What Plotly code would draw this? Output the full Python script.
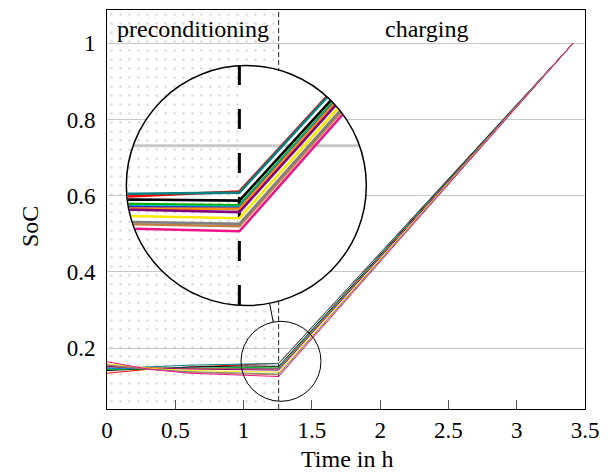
import numpy as np
import plotly.graph_objects as go

# ---------------------------------------------------------------- data
# time stamps of the preconditioning phase (h) and the state of charge of
# every profile at those stamps; charging then runs linearly up to full
T_PRE = [0.0, 0.3, 0.6, 1.0, 1.257]
T_FULL = 3.413
SOC_FULL = 1.0

soc_red = [0.134, 0.144, 0.150, 0.156, 0.160]
soc_teal = [0.146, 0.151, 0.155, 0.158, 0.159]
soc_black = [0.141, 0.146, 0.150, 0.153, 0.152]
soc_green = [0.144, 0.146, 0.148, 0.149, 0.148]
soc_cyan = [0.147, 0.147, 0.147, 0.147, 0.1465]
soc_blue = [0.148, 0.147, 0.146, 0.1465, 0.1455]
soc_orange = [0.151, 0.148, 0.146, 0.145, 0.1448]
soc_purple = [0.152, 0.147, 0.145, 0.144, 0.142]
soc_yellow = [0.159, 0.147, 0.141, 0.1385, 0.1366]
soc_brown = [0.155, 0.144, 0.136, 0.1313, 0.1296]
soc_gray = [0.156, 0.145, 0.138, 0.1333, 0.1317]
soc_pink = [0.164, 0.145, 0.134, 0.1275, 0.1252]

SERIES = [
    (soc_red, "#ff0000"),
    (soc_teal, "#008080"),
    (soc_black, "#000000"),
    (soc_green, "#00b000"),
    (soc_cyan, "#00bcd8"),
    (soc_blue, "#2030e0"),
    (soc_orange, "#ff8c00"),
    (soc_purple, "#800080"),
    (soc_yellow, "#ffe800"),
    (soc_brown, "#c08040"),
    (soc_gray, "#808080"),
    (soc_pink, "#f0148c"),
]

X_TICKS = [0, 0.5, 1, 1.5, 2, 2.5, 3, 3.5]
X_TICK_TEXT = ["0", "0.5", "1", "1.5", "2", "2.5", "3", "3.5"]
Y_TICKS = [0.2, 0.4, 0.6, 0.8, 1.0]
Y_TICK_TEXT = ["0.2", "0.4", "0.6", "0.8", "1"]

PHASE_SPLIT = T_PRE[-1]

# ---------------------------------------------------------------- geometry
W, H = 608, 476
M_L, M_R, M_T, M_B = 107, 19, 9, 67
PW, PH = W - M_L - M_R, H - M_T - M_B
X_RANGE = [0.0, 3.5]
Y_RANGE = [0.04, 1.0874]
FONT = "Liberation Serif"


def to_px(x, y):
    px = M_L + (x - X_RANGE[0]) / (X_RANGE[1] - X_RANGE[0]) * PW
    py = M_T + (Y_RANGE[1] - y) / (Y_RANGE[1] - Y_RANGE[0]) * PH
    return np.array([px, py], dtype=float)


def to_data(p):
    x = X_RANGE[0] + (p[0] - M_L) / PW * (X_RANGE[1] - X_RANGE[0])
    y = Y_RANGE[1] - (p[1] - M_T) / PH * (Y_RANGE[1] - Y_RANGE[0])
    return x, y


# magnifier: small lens on the phase change, enlarged copy in a big lens
LENS_SRC = to_px(1.274, 0.1652)
LENS_R = 40.0
ZOOM = 3.0
LENS_DST = np.array([247.5, 185.0])
BIG_R = LENS_R * ZOOM


def magnify(p):
    return LENS_DST + ZOOM * (np.asarray(p, dtype=float) - LENS_SRC)


def clip_segment(p, q, c, r):
    d = q - p
    f = p - c
    a = d @ d
    if a == 0:
        return None
    b = 2 * f @ d
    cc = f @ f - r * r
    disc = b * b - 4 * a * cc
    if disc <= 0:
        return None
    s = np.sqrt(disc)
    t1 = max((-b - s) / (2 * a), 0.0)
    t2 = min((-b + s) / (2 * a), 1.0)
    if t1 >= t2:
        return None
    return p + t1 * d, p + t2 * d


def clipped_polyline(points_px, c, r):
    xs, ys = [], []
    last = None
    for p, q in zip(points_px[:-1], points_px[1:]):
        seg = clip_segment(p, q, c, r)
        if seg is None:
            continue
        a, b = seg
        if last is None or np.linalg.norm(a - last) > 1e-6:
            if xs:
                xs.append(None)
                ys.append(None)
            x0, y0 = to_data(a)
            xs.append(x0)
            ys.append(y0)
        x1, y1 = to_data(b)
        xs.append(x1)
        ys.append(y1)
        last = b
    return xs, ys


def circle_data(c, r, n=241):
    th = np.linspace(0, 2 * np.pi, n)
    pts = [to_data((c[0] + r * np.cos(t), c[1] + r * np.sin(t))) for t in th]
    return [p[0] for p in pts], [p[1] for p in pts]


fig = go.Figure()

PATTERN = dict(shape=".", fgcolor="#b8b8b8", bgcolor="rgba(0,0,0,0)",
               size=9, solidity=0.07, fillmode="overlay")

# dotted background of the preconditioning phase
fig.add_trace(go.Scatter(
    x=[X_RANGE[0], PHASE_SPLIT, PHASE_SPLIT, X_RANGE[0], X_RANGE[0]],
    y=[Y_RANGE[0], Y_RANGE[0], Y_RANGE[1], Y_RANGE[1], Y_RANGE[0]],
    mode="lines", line=dict(width=0), fill="toself",
    fillcolor="rgba(0,0,0,0)", fillpattern=PATTERN, hoverinfo="skip"))

# phase boundary
fig.add_trace(go.Scatter(
    x=[PHASE_SPLIT, PHASE_SPLIT], y=Y_RANGE, mode="lines",
    line=dict(color="#222222", width=1, dash="5px,3px"), hoverinfo="skip"))

# state-of-charge profiles
profiles = []
for soc, color in SERIES:
    xs = T_PRE + [T_FULL]
    ys = soc + [SOC_FULL]
    profiles.append((xs, ys, color))
    fig.add_trace(go.Scatter(x=xs, y=ys, mode="lines",
                             line=dict(color=color, width=1)))

# ---------------------------------------------------------------- big lens
bx, by = circle_data(LENS_DST, BIG_R)
fig.add_trace(go.Scatter(x=bx, y=by, mode="lines", line=dict(width=0),
                         fill="toself", fillcolor="white", hoverinfo="skip"))

# enlarged dotted area left of the phase boundary
xd = magnify(to_px(PHASE_SPLIT, 0.1))[0]
a = np.arccos(np.clip((xd - LENS_DST[0]) / BIG_R, -1, 1))
th = np.linspace(a, 2 * np.pi - a, 200)
seg_pts = [to_data((LENS_DST[0] + BIG_R * np.cos(t), LENS_DST[1] + BIG_R * np.sin(t)))
           for t in th]
fig.add_trace(go.Scatter(
    x=[p[0] for p in seg_pts] + [seg_pts[0][0]],
    y=[p[1] for p in seg_pts] + [seg_pts[0][1]],
    mode="lines", line=dict(width=0), fill="toself",
    fillcolor="rgba(0,0,0,0)", fillpattern=PATTERN, hoverinfo="skip"))

# enlarged grid lines
for yv in Y_TICKS:
    pts = [magnify(to_px(X_RANGE[0], yv)), magnify(to_px(X_RANGE[1], yv))]
    gx, gy = clipped_polyline(pts, LENS_DST, BIG_R)
    if gx:
        fig.add_trace(go.Scatter(x=gx, y=gy, mode="lines",
                                 line=dict(color="#c8c8c8", width=3),
                                 hoverinfo="skip"))

# enlarged phase boundary
pts = [magnify(to_px(PHASE_SPLIT, Y_RANGE[0])), magnify(to_px(PHASE_SPLIT, Y_RANGE[1]))]
gx, gy = clipped_polyline(pts, LENS_DST, BIG_R)
fig.add_trace(go.Scatter(x=gx, y=gy, mode="lines",
                         line=dict(color="black", width=3, dash="20px,24px"),
                         hoverinfo="skip"))

# enlarged profiles
for xs, ys, color in profiles:
    pts = [magnify(to_px(x, y)) for x, y in zip(xs, ys)]
    gx, gy = clipped_polyline(pts, LENS_DST, BIG_R)
    fig.add_trace(go.Scatter(x=gx, y=gy, mode="lines",
                             line=dict(color=color, width=2.6),
                             hoverinfo="skip"))

# ---------------------------------------------------------------- lens outlines
sx, sy = to_data(LENS_SRC)
gx, gy = to_data(LENS_DST)
shapes = [
    dict(type="circle", xref="x", yref="y", xsizemode="pixel", ysizemode="pixel",
         xanchor=sx, yanchor=sy, x0=-LENS_R, x1=LENS_R, y0=-LENS_R, y1=LENS_R,
         line=dict(color="black", width=1), layer="above"),
    dict(type="circle", xref="x", yref="y", xsizemode="pixel", ysizemode="pixel",
         xanchor=gx, yanchor=gy, x0=-BIG_R, x1=BIG_R, y0=-BIG_R, y1=BIG_R,
         line=dict(color="black", width=1.5), layer="above"),
]
u = LENS_SRC - LENS_DST
u = u / np.linalg.norm(u)
c0 = to_data(LENS_DST + BIG_R * u)
c1 = to_data(LENS_SRC - LENS_R * u)
shapes.append(dict(type="line", xref="x", yref="y", x0=c0[0], y0=c0[1],
                   x1=c1[0], y1=c1[1], line=dict(color="black", width=1),
                   layer="above"))


def paper(px, py):
    return (px - M_L) / PW, (H - M_B - py) / PH


TEXT_SIZE = 24
TICK_SIZE = 23

annotations = []
for text, px, py in [("preconditioning", 193.5, 28), ("charging", 429.5, 28)]:
    xp, yp = paper(px, py)
    annotations.append(dict(text=text, x=xp, y=yp, xref="paper", yref="paper",
                            showarrow=False, xanchor="center", yanchor="middle",
                            font=dict(family=FONT, size=TEXT_SIZE, color="black")))
xp, yp = paper(349, 459)
annotations.append(dict(text="Time in h", x=xp, y=yp, xref="paper", yref="paper",
                        showarrow=False, xanchor="center", yanchor="middle",
                        font=dict(family=FONT, size=TEXT_SIZE, color="black")))
xp, yp = paper(30, 226)
annotations.append(dict(text="SoC", x=xp, y=yp, xref="paper", yref="paper",
                        showarrow=False, xanchor="center", yanchor="middle",
                        textangle=-90,
                        font=dict(family=FONT, size=TEXT_SIZE, color="black")))

fig.update_layout(
    width=W, height=H,
    margin=dict(l=M_L, r=M_R, t=M_T, b=M_B, pad=0),
    paper_bgcolor="white", plot_bgcolor="white",
    showlegend=False,
    shapes=shapes, annotations=annotations,
    xaxis=dict(range=X_RANGE, showgrid=False, zeroline=False,
               tickvals=X_TICKS, ticktext=X_TICK_TEXT,
               ticks="inside", ticklen=9, tickwidth=1, tickcolor="#555555",
               showline=True, linecolor="black", linewidth=1, mirror=True,
               ticklabelstandoff=0,
               tickfont=dict(family=FONT, size=TICK_SIZE, color="black")),
    yaxis=dict(range=Y_RANGE, showgrid=True, gridcolor="#c8c8c8", gridwidth=1,
               zeroline=False, tickvals=Y_TICKS, ticktext=Y_TICK_TEXT,
               ticks="", showline=True, linecolor="black", linewidth=1,
               mirror=True, ticklabelstandoff=6,
               tickfont=dict(family=FONT, size=TICK_SIZE, color="black")),
)

fig.write_html("out.html")
